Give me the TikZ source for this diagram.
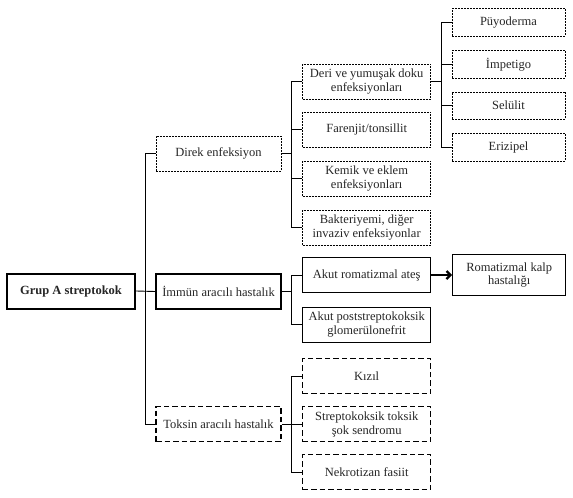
\documentclass[tikz,border=0pt]{standalone}
\usepackage{fontspec}
\setmainfont{Liberation Serif}
\usetikzlibrary{arrows.meta}
\definecolor{txt}{HTML}{262626}
\tikzset{
  box/.style={draw=black, text=txt, align=center, inner sep=1pt,
    font=\fontsize{12.5}{13.6}\selectfont, minimum height=35pt},
  fine/.style={box, line width=0.9pt, dash pattern=on 2pt off 1pt},
  coarse/.style={box, line width=1.2pt, dash pattern=on 5.5pt off 3pt},
  solidbox/.style={box, line width=1.3pt},
  rootbox/.style={box, line width=2pt, font=\fontsize{12.5}{13.6}\selectfont\bfseries},
  wmid/.style={minimum width=125pt},
  wtwo/.style={minimum width=128pt},
  wthree/.style={minimum width=113pt},
  conn/.style={line width=0.9pt, line join=miter},
}
\begin{document}
\begin{tikzpicture}[x=1pt,y=-1pt]
\useasboundingbox (0,0) rectangle (573,498);
% level 0/1
\node[rootbox, minimum width=128pt] (grup) at (71,291) {Grup A streptokok};
\node[fine, wmid] (direk) at (218.5,153.5) {Direk enfeksiyon};
\node[solidbox, wmid] (immun) at (218.5,291.5) {İmmün aracılı hastalık};
\node[coarse, wmid] (toksin) at (218.5,424) {Toksin aracılı hastalık};
% level 2
\node[fine, wtwo] (deri) at (366.7,81.5) {Deri ve yumuşak doku\\enfeksiyonları};
\node[fine, wtwo] (far) at (366.7,129.5) {Farenjit/tonsillit};
\node[fine, wtwo] (kemik) at (366.7,178.5) {Kemik ve eklem\\enfeksiyonları};
\node[fine, wtwo] (bakt) at (366.7,227.5) {Bakteriyemi, diğer\\invaziv enfeksiyonlar};
\node[solidbox, wtwo] (arf) at (366.7,275) {Akut romatizmal ateş};
\node[solidbox, wtwo] (apsgn) at (366.7,324.7) {Akut poststreptokoksik\\glomerülonefrit};
\node[coarse, wtwo] (kizil) at (366.7,376.3) {Kızıl};
\node[coarse, wtwo] (stss) at (366.7,424.3) {Streptokoksik toksik\\şok sendromu};
\node[coarse, wtwo] (nekro) at (366.7,472.3) {Nekrotizan fasiit};
% level 3
\node[fine, wthree, minimum height=27.5pt] (puy) at (508.5,22.2) {Püyoderma};
\node[fine, wthree, minimum height=27.5pt] (imp) at (508.5,64.2) {İmpetigo};
\node[fine, wthree, minimum height=27.5pt] (sel) at (508.5,105.7) {Selülit};
\node[fine, wthree, minimum height=27.5pt] (eri) at (508.5,147.3) {Erizipel};
\node[solidbox, wthree, minimum height=41pt] (rkh) at (509.2,275) {Romatizmal kalp\\hastalığı};
% bus coordinates
\coordinate (t0) at (145,0);
\coordinate (t1) at (291.7,0);
\coordinate (t2) at (441.7,0);
% trunk
\draw[conn] (grup.east) -- (immun.west);
\draw[conn] (direk.west) -- (direk.west -| t0) -- (toksin.west -| t0) -- (toksin.west);
% direk branch
\draw[conn] (direk.east) -- (direk.east -| t1);
\draw[conn] (deri.west) -- (deri.west -| t1) -- (bakt.west -| t1) -- (bakt.west);
\draw[conn] (far.west) -- (far.west -| t1);
\draw[conn] (kemik.west) -- (kemik.west -| t1);
% immun branch
\draw[conn] (immun.east) -- (immun.east -| t1);
\draw[conn] (arf.west) -- (arf.west -| t1) -- (apsgn.west -| t1) -- (apsgn.west);
% toksin branch
\draw[conn] (toksin.east) -- (toksin.east -| t1);
\draw[conn] (kizil.west) -- (kizil.west -| t1) -- (nekro.west -| t1) -- (nekro.west);
\draw[conn] (stss.west) -- (stss.west -| t1);
% deri subbranch
\draw[conn] (deri.east) -- (deri.east -| t2);
\draw[conn] (puy.west) -- (puy.west -| t2) -- (eri.west -| t2) -- (eri.west);
\draw[conn] (imp.west) -- (imp.west -| t2);
\draw[conn] (sel.west) -- (sel.west -| t2);
% arrow
\draw[line width=2.2pt, -{Straight Barb[length=4pt,width=8pt]}] (arf.east) -- (rkh.west);
\end{tikzpicture}
\end{document}
